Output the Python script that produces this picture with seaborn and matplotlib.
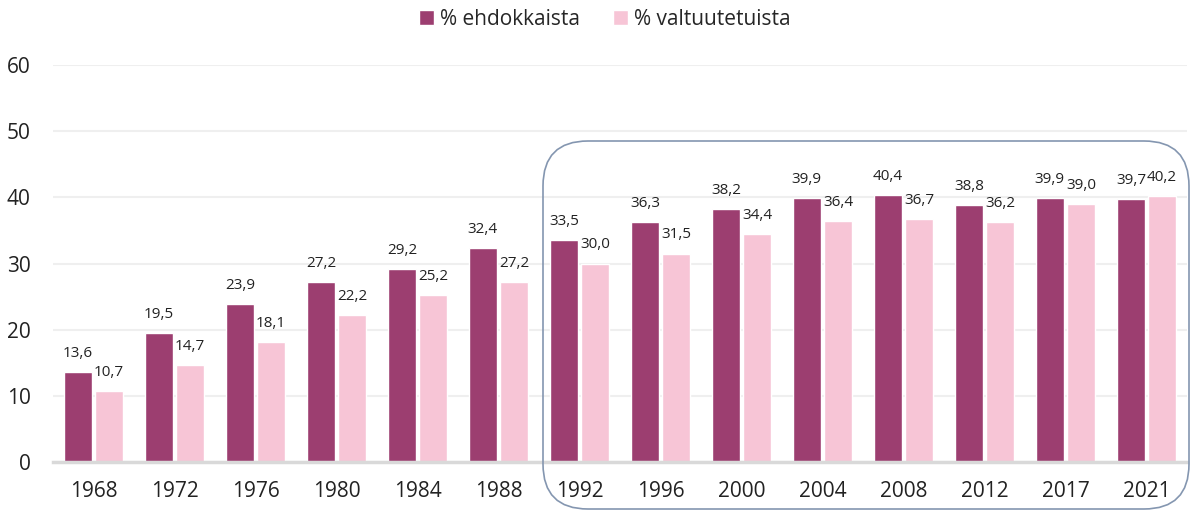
import pandas as pd
import seaborn as sns
import matplotlib.pyplot as plt
from matplotlib.patches import FancyBboxPatch

years = ["1968", "1972", "1976", "1980", "1984", "1988", "1992",
         "1996", "2000", "2004", "2008", "2012", "2017", "2021"]
ehdokkaista = [13.6, 19.5, 23.9, 27.2, 29.2, 32.4, 33.5,
               36.3, 38.2, 39.9, 40.4, 38.8, 39.9, 39.7]
valtuutetuista = [10.7, 14.7, 18.1, 22.2, 25.2, 27.2, 30.0,
                  31.5, 34.4, 36.4, 36.7, 36.2, 39.0, 40.2]
series_names = ["% ehdokkaista", "% valtuutetuista"]
colors = ["#9C3E70", "#F7C5D6"]

# long format for seaborn
df = pd.DataFrame({
    "year": years * 2,
    "value": ehdokkaista + valtuutetuista,
    "series": [series_names[0]] * len(years) + [series_names[1]] * len(years),
})

sns.set_style("white")
plt.rcParams['font.family'] = ['Open Sans', 'DejaVu Sans']

fig = plt.figure(figsize=(11.93, 5.12), dpi=100)
ax = fig.add_axes([0.0444, 0.0977, 0.9506, 0.7753])

sns.barplot(data=df, x="year", y="value", hue="series", palette=colors,
            saturation=1, width=0.77, gap=0.12, ax=ax, legend=True)

ax.set_ylim(0, 60)
ax.set_yticks(range(0, 61, 10))
ax.set_xlim(-0.5, len(years) - 0.5)
ax.yaxis.grid(True, color="#EFEFEF", linewidth=1.5)
ax.set_axisbelow(True)
for side in ["top", "right", "left"]:
    ax.spines[side].set_visible(False)
ax.spines["bottom"].set_color("#D9D9D9")
ax.spines["bottom"].set_linewidth(2.5)
ax.tick_params(axis="both", length=0, labelsize=15, colors="#222222")
ax.tick_params(axis="y", pad=16)
ax.tick_params(axis="x", pad=14)
ax.set_xlabel("")
ax.set_ylabel("")

# value labels with decimal comma
for cont in ax.containers:
    vals = [b.get_height() for b in cont]
    ax.bar_label(cont, labels=[f"{v:.1f}".replace(".", ",") for v in vals],
                 padding=8, fontsize=11, color="#222222")

# legend on top
handles, labels = ax.get_legend_handles_labels()
ax.get_legend().remove()
fig.legend(handles, labels, loc="upper center", bbox_to_anchor=(0.507, 1.02),
           ncol=2, frameon=False, fontsize=15, handlelength=0.7,
           handleheight=0.7, handletextpad=0.3, columnspacing=1.6)

# rounded highlight box around 1992-2021
box = FancyBboxPatch((5.43, 0.03), 6.46, 3.68,
                     boxstyle="round,pad=0,rounding_size=0.45",
                     transform=fig.dpi_scale_trans, fill=False,
                     edgecolor="#8496B0", linewidth=1.2, clip_on=False)
fig.patches.append(box)

fig.savefig("out.png", dpi=100)
plt.close()
